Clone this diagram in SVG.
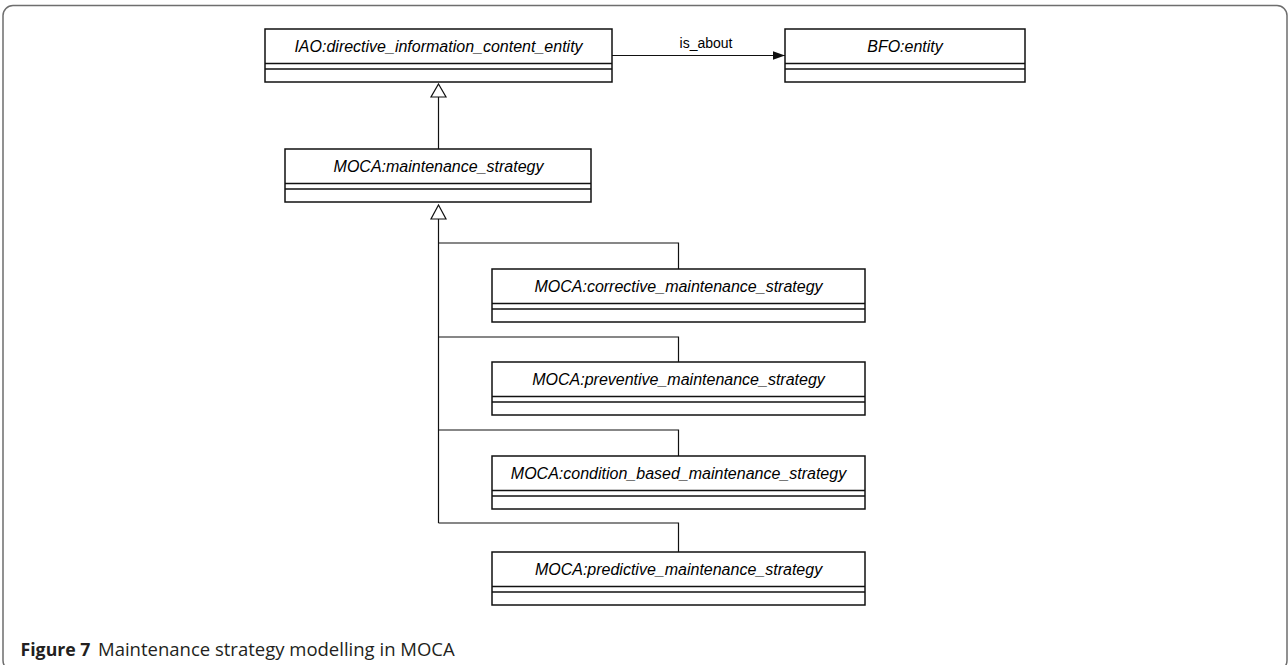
<svg xmlns="http://www.w3.org/2000/svg" width="1288" height="665" viewBox="0 0 1288 665">
  <style>
    .frame { fill: none; stroke: #6e6e6e; stroke-width: 1.5; }
    .box { fill: #ffffff; stroke: #111111; stroke-width: 1.5; }
    .sep { stroke: #111111; stroke-width: 1.3; }
    .edge { fill: none; stroke: #111111; stroke-width: 1.2; }
    .name { font-family: "Liberation Sans", Arial, sans-serif; font-style: italic; font-size: 16px; fill: #000000; text-anchor: middle; }
    .label { font-family: "Liberation Sans", Arial, sans-serif; font-size: 14px; fill: #000000; text-anchor: middle; }
    .cap { font-family: "Open Sans", "Noto Sans", sans-serif; fill: #231f20; }
  </style>
  <defs>
    <marker id="filled" markerWidth="12" markerHeight="10" refX="12" refY="5" orient="auto" markerUnits="userSpaceOnUse">
      <path d="M0,0.8 L12,5 L0,9.2 Z" fill="#111111"/>
    </marker>
  </defs>

  <rect width="1288" height="665" fill="#ffffff"/>
  <!-- page frame -->
  <rect class="frame" x="3" y="5.5" width="1284" height="665" rx="10" ry="10"/>

  <!-- connectors -->
  <g id="connectors">
    <!-- association is_about -->
    <path class="edge" d="M612,55.5 H785" marker-end="url(#filled)"/>
    <text class="label" x="706" y="48">is_about</text>
    <!-- generalization: maintenance_strategy to directive_information_content_entity -->
    <path class="edge" d="M438.5,149 V97"/>
    <path class="edge" d="M438.5,84 L446,97 L431,97 Z" stroke-width="1.4"/>
    <!-- generalization tree: subclasses to maintenance_strategy -->
    <path class="edge" d="M438.5,523 V219"/>
    <path class="edge" d="M438.5,205 L446,219 L431,219 Z" stroke-width="1.4"/>
    <path class="edge" d="M438.5,243 H678.5 V269"/>
    <path class="edge" d="M438.5,337 H678.5 V362"/>
    <path class="edge" d="M438.5,430 H678.5 V456"/>
    <path class="edge" d="M438.5,523 H678.5 V552"/>
  </g>

  <!-- classes -->
  <g id="iao_directive_information_content_entity">
    <rect class="box" x="265" y="29" width="347" height="53"/>
    <line class="sep" x1="265" y1="63.5" x2="612" y2="63.5"/>
    <line class="sep" x1="265" y1="69" x2="612" y2="69"/>
    <text class="name" x="438.5" y="51.5">IAO:directive_information_content_entity</text>
  </g>

  <g id="bfo_entity">
    <rect class="box" x="785" y="29" width="240" height="53"/>
    <line class="sep" x1="785" y1="63.5" x2="1025" y2="63.5"/>
    <line class="sep" x1="785" y1="69" x2="1025" y2="69"/>
    <text class="name" x="905" y="51.5">BFO:entity</text>
  </g>

  <g id="moca_maintenance_strategy">
    <rect class="box" x="285" y="149" width="306" height="53"/>
    <line class="sep" x1="285" y1="183.5" x2="591" y2="183.5"/>
    <line class="sep" x1="285" y1="189" x2="591" y2="189"/>
    <text class="name" x="438.5" y="171.5">MOCA:maintenance_strategy</text>
  </g>

  <g id="moca_corrective_maintenance_strategy">
    <rect class="box" x="492" y="269" width="373" height="53"/>
    <line class="sep" x1="492" y1="303.5" x2="865" y2="303.5"/>
    <line class="sep" x1="492" y1="309" x2="865" y2="309"/>
    <text class="name" x="678.5" y="291.5">MOCA:corrective_maintenance_strategy</text>
  </g>

  <g id="moca_preventive_maintenance_strategy">
    <rect class="box" x="492" y="362" width="373" height="53"/>
    <line class="sep" x1="492" y1="396.5" x2="865" y2="396.5"/>
    <line class="sep" x1="492" y1="402" x2="865" y2="402"/>
    <text class="name" x="678.5" y="384.5">MOCA:preventive_maintenance_strategy</text>
  </g>

  <g id="moca_condition_based_maintenance_strategy">
    <rect class="box" x="492" y="456" width="373" height="53"/>
    <line class="sep" x1="492" y1="490.5" x2="865" y2="490.5"/>
    <line class="sep" x1="492" y1="496" x2="865" y2="496"/>
    <text class="name" x="678.5" y="478.5">MOCA:condition_based_maintenance_strategy</text>
  </g>

  <g id="moca_predictive_maintenance_strategy">
    <rect class="box" x="492" y="552" width="373" height="53"/>
    <line class="sep" x1="492" y1="586.5" x2="865" y2="586.5"/>
    <line class="sep" x1="492" y1="592" x2="865" y2="592"/>
    <text class="name" x="678.5" y="574.5">MOCA:predictive_maintenance_strategy</text>
  </g>

  <!-- caption -->
  <text class="cap" x="20.5" y="655.5" font-size="18" font-weight="bold" textLength="70" lengthAdjust="spacingAndGlyphs">Figure 7</text>
  <text class="cap" x="98" y="655.5" font-size="18.5">Maintenance strategy modelling in MOCA</text>
</svg>
